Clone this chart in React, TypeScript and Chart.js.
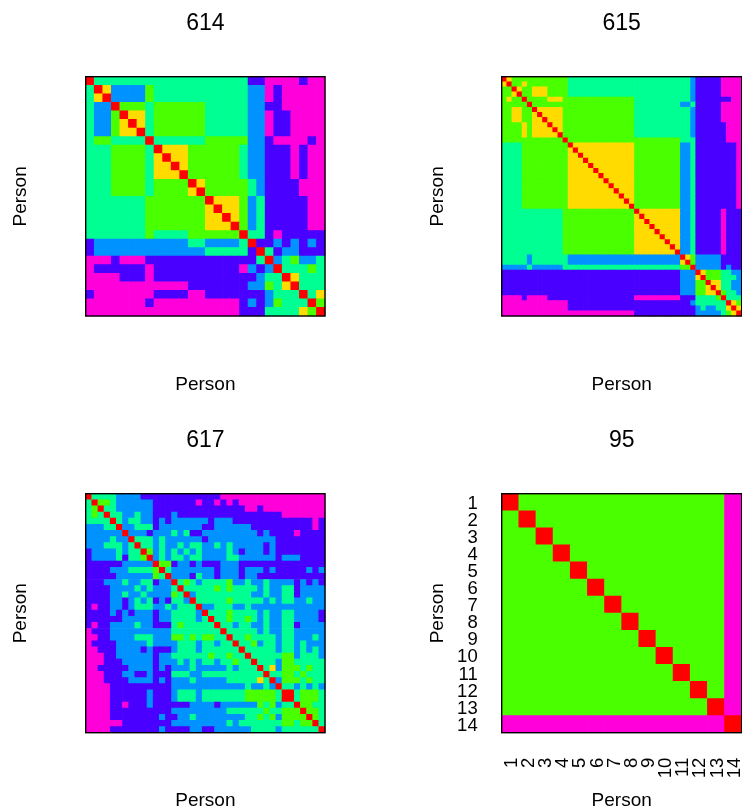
import React, { useEffect, useRef } from "react";
import { Chart, registerables } from "chart.js";

Chart.register(...registerables);

// Level of each cell: 0 red, 1 gold, 2 green, 3 spring, 4 azure, 5 indigo, 6 magenta
const levelColors = ["#FF0000", "#FFDB00", "#49FF00", "#00FF92", "#0092FF", "#4900FF", "#FF00DB"];

const rows614 = [
  "0 333333333333333333 55 6666 5 66",
  "3 0 1 4444 2 33333333333 44 6 5 66666",
  "3 1 0 4444 2 33333333333 44 6 5 66666",
  "3 44 0 222 3 222222 33333 44 55 66666",
  "3 44 2 0 11 3 222222 33333 44 6 55 6666",
  "3 44 2 1 0 1 3 222222 33333 44 6 55 6666",
  "3 44 2 11 0 3 222222 33333 44 6 55 6666",
  "3 22 3333 0 333333 22222 44 5 6666 5 6",
  "333 2222 3 0 111 222222 3 44 555 6 5 66",
  "333 2222 3 1 0 11 222222 3 44 555 6 5 66",
  "333 2222 3 11 0 1 222222 3 44 555 6 5 66",
  "333 2222 3 111 0 222222 3 44 555 6 5 66",
  "333 2222 3 2222 0 1 22222 3 4 5555 666",
  "333 2222 3 2222 1 0 22222 3 4 5555 666",
  "3333333 2222222 0 111 2 4 3 55555 66",
  "3333333 2222222 1 0 11 2 4 3 55555 66",
  "3333333 2222222 11 0 1 2 4 3 55555 66",
  "3333333 2222222 111 0 2 4 3 55555 66",
  "3333333 2 3333 222222 0 33 5 6 55555",
  "5 44444444444 33 4444 3 0 55 4 5 4 5 4 5",
  "5 4444444444444 33333 5 0 3 5 44 555",
  "666 5 666 5555555555555 3 0 4 3 2 44 3",
  "6 555555 6 5555555555 6 4 5 4 0 333 2 3",
  "6666 555 6 555555555555 4 33 0 1 333",
  "666666666666 5555555 44 2 3 1 0 333",
  "5 6666666 5555 66 5555555 4 333 0 3 1",
  "6666666 5 6666666666 5 4 5 4 2 333 0 2",
  "666666666666666666 555 3333 1 2 0",
];

const rows615 = [
  "01 22222222222 333333333333333333333333 4 55555 6666",
  "10 22 1 22222222 333333333333333333333333 4 55555 6666",
  "22 0 1 22 111 2222 333333333333333333333333 4 55555 6666",
  "22 1 0 22 111 2222 333333333333333333333333 4 55555 6666",
  "2 1 22 0 2222 111 2 2222222222222 33333333333 4 5555555 66",
  "22222 0 2222222 2222222222222 333333333 44 3 55555 6666",
  "22 11 22 0 11111 2 2222222222222 33333333333 4 55555 6666",
  "22 11 22 1 0 1111 2 2222222222222 33333333333 4 55555 6666",
  "22 11 22 11 0 111 2 2222222222222 33333333333 4 55555 6666",
  "2222 1 2 111 0 11 2 2222222222222 33333333333 4 555555 666",
  "2222 1 2 1111 0 1 2 2222222222222 33333333333 4 555555 666",
  "2222 1 2 11111 0 2 2222222222222 33333333333 4 555555 666",
  "222222222222 0 2222222222222222222222 333 555555 666",
  "3333 222222222 0 111111111111 222222222 44 3 55555555 6",
  "3333 222222222 1 0 11111111111 222222222 44 3 55555555 6",
  "3333 222222222 11 0 1111111111 222222222 44 3 55555555 6",
  "3333 222222222 111 0 111111111 222222222 44 3 55555555 6",
  "3333 222222222 1111 0 11111111 222222222 44 3 55555555 6",
  "3333 222222222 11111 0 1111111 222222222 44 3 55555555 6",
  "3333 222222222 111111 0 111111 222222222 44 3 55555555 6",
  "3333 222222222 1111111 0 11111 222222222 44 3 55555555 6",
  "3333 222222222 11111111 0 1111 222222222 44 3 55555555 6",
  "3333 222222222 111111111 0 111 222222222 44 3 55555555 6",
  "3333 222222222 1111111111 0 11 222222222 44 3 55555555 6",
  "3333 222222222 11111111111 0 1 222222222 44 3 55555555 6",
  "3333 222222222 111111111111 0 222222222 44 3 55555555 6",
  "333333333333 22222222222222 0 11111111 44 3 55555 6 555",
  "333333333333 22222222222222 1 0 1111111 44 3 55555 6 555",
  "333333333333 22222222222222 11 0 111111 44 3 55555 6 555",
  "333333333333 22222222222222 111 0 11111 44 3 55555 6 555",
  "333333333333 22222222222222 1111 0 1111 44 3 55555 6 555",
  "333333333333 22222222222222 11111 0 111 44 3 55555 6 555",
  "333333333333 22222222222222 111111 0 11 44 3 55555 6 555",
  "333333333333 22222222222222 1111111 0 1 44 3 55555 6 555",
  "333333333333 22222222222222 11111111 0 44 3 55555 6 555",
  "33333 4 3333333 4444444444444444444444 0 1 2 44444 5555",
  "33333 4 3333333 4444444444444444444444 1 0 2 44444 5555",
  "44444 3 444444 33333333333333333333333 22 0 44444 5 4 55",
  "55555555555555555555555555555555555 444 01 222 33 44",
  "55555555555555555555555555555555555 444 10 222 333 4",
  "55555555555555555555555555555555555 444 22 0 11 33 44",
  "55555555555555555555555555555555555 444 22 1 0 1 33 44",
  "55555555555555555555555555555555555 444 22 11 0 2 33 4",
  "6666 5 6666 55555555555555555 666666666 555 3333 2 0 333",
  "6666666666666 555555555555555555555555 4 333333 0 1 2",
  "6666666666666 5555555555555555555555555 4 3 44 33 1 0 1",
  "66666666666666666666666666 555555555555 44444 3 2 1 0",
];

const rows617 = [
  "0 3333 4444 5555555555555 66666666666666666",
  "3 0 22 3 444444 5555555 6 55 6 5 6 5 66666666666666",
  "3 2 0 33 444444 555555555555555 66 5 6666666666",
  "3 2 3 0 33 44 3 44 555 4 55555555555555555 6666666",
  "3333 0 3 4 33 44 5 4 5 444444 5 444 5555555555555 6 5",
  "444 33 0 44 333 5 4444444 55 444444 5555555555 6 5",
  "444444 0 444 5 444 3 4 3 55 444444444 5 4 5555 6 5555",
  "4444 3 44 0 333 4 3 444444 5 44444444444 55555555",
  "444 333 4 3 0 33 4 3 44 3 4 33 44 3 4 3 44444 5 4 55555555",
  "5 4444 3 4 33 0 2 4 3 4 3 4 3 4 3 4444 3 4 5 444 5 4 55555555",
  "5 4444 3 5 33 2 0 4 3 4 33 4 33 4444 33 444444 5 444 5555",
  "555555 44444 0 22 5 44 5 4 555 444 55555555555555",
  "5555 444 3333 2 0 3 4444444 5 444 5 444 5 4 55555 4 5 4",
  "55555 444444 2 3 0 444 5 3 44 5 444 5 44 55555555555",
  "555 444 3 44 33 5 44 0 3 2 3 4 3333 2 44 3 44 3 4444 5 4 5 4 5",
  "5555 4444 3 4 3 444 3 0 33333 2 3 2 3333 4 3 44 33 5 4444",
  "5555 44 3 44 3 4444 2 3 0 4 333333333 44 3 44 33 5 4444",
  "5555 44 5 4 3 4 3 5 4 5 33 4 0 33333 2 33333 4 3 4 33 44 3 44",
  "5 6 55 44 5 4 333 44 3 4 333 0 44 333 44 3 444444444444",
  "5555 4 5 4 5 444 5 44 3333 4 0 333 2 3333 4 3 44 33 4444 5",
  "555555 44444 5 44 3333 4 3 0 33 2 33 2 3 4 3 44 33 4444 5",
  "5 6 55 4444 3 44 555 3 2 33333 0 33 4 33 44 3 44 33 5 4444",
  "6 555 4444444444 33333333 0 33333 4 3 44 33 44444",
  "66 55 4444 333 444 22 3 2 3 22 33 0 33 2 3333 4 33 444 3 4",
  "6 5555 44444 3 4444 333 4 33 4 33 0 33 2 4 33 4 33 4 3 444",
  "66 555 4444 5 4 555 4 333 4 333333 0 33333 4 33 4 3 4 3 4",
  "666 55 444444 5 44 333333 2 33 2 33 0 33333 22 4 333 4",
  "666 555 44444 5 444 3 4 3 4 33 4 33 2 33 0 333 4 22 33333",
  "66 55555 4444 5 4 5 444 3 44444 3 4 333 0 3 1 4 222 3 2 33",
  "666 555 44 55 4 555 333 44 3333333333 0 33 22 3 2 333",
  "666 5555 4444 5 4 5 444 3 44444 33333 1 3 0 4 222 3 2 33",
  "6666 5555555555 444444444444 3 44 3 4 0 33 4 3 4 3 4",
  "6666 555555 4 555 4 333 4 3333333 22222 3 0 0 3 222 3",
  "6666 555555 4 555 4 333 4 3333333 22222 3 0 0 3 222 3",
  "6666 55 6 555 4 555555 4444 5 444444 2 3 2 4 33 0 22 33",
  "6666 5555555555 444444444 333333 2 33 222 0 22 3",
  "6666 55555555 4 55 44 3 44444444 33 2 3 2 4 2222 0 2 3",
  "666666 55555555 444444444 3 4 3333333 22 3 22 0 3",
  "6666 55555555 4 5555 44 55 444444 3333 4 333333 0",
];

const rows95 = [
  "0 222222222222 6",
  "2 0 22222222222 6",
  "22 0 2222222222 6",
  "222 0 222222222 6",
  "2222 0 22222222 6",
  "22222 0 2222222 6",
  "222222 0 222222 6",
  "2222222 0 22222 6",
  "22222222 0 2222 6",
  "222222222 0 222 6",
  "2222222222 0 22 6",
  "22222222222 0 2 6",
  "222222222222 0 6",
  "6666666666666 0",
];

const persons95 = ["1", "2", "3", "4", "5", "6", "7", "8", "9", "10", "11", "12", "13", "14"];

const FONT = "'Liberation Sans', Arial, sans-serif";
const TITLE_SIZE = 23;
const AXIS_SIZE = 19;
const TICK_SIZE = 18.5;

type PanelProps = {
  title: string;
  rows: string[];
  labels?: string[];
  left: number;
  top: number;
  plotLeft: number;
  plotTop: number;
  plotRight: number;
  plotBottom: number;
  titleCenter: number;
  yTitleCenter: number;
  xTitleFromBottom: number;
};

const W = 371;
const H = 406;

const framePlugin = {
  id: "frame",
  afterDatasetsDraw(chart: any) {
    const { left, top, width, height } = chart.chartArea;
    const ctx = chart.ctx;
    ctx.save();
    ctx.strokeStyle = "#000";
    ctx.lineWidth = 1.4;
    ctx.strokeRect(left, top, width, height);
    ctx.restore();
  },
};

function Panel(p: PanelProps) {
  const ref = useRef<HTMLCanvasElement>(null);
  useEffect(() => {
    const cells = p.rows.map((r) => r.replace(/ /g, ""));
    const n = cells.length;
    const names = p.labels ?? cells.map((_, i) => String(i + 1));
    const points: { x: string; y: string }[] = [];
    const colors: string[] = [];
    cells.forEach((row, r) => {
      row.split("").forEach((level, c) => {
        points.push({ x: names[c], y: names[r] });
        colors.push(levelColors[Number(level)]);
      });
    });
    const showTicks = !!p.labels;
    const chart = new Chart(ref.current as HTMLCanvasElement, {
      type: "scatter",
      data: {
        datasets: [
          {
            data: points,
            pointStyle: "rect",
            pointBackgroundColor: colors,
            pointBorderWidth: 0,
            pointRadius: (ctx: any) => {
              const area = ctx.chart.chartArea;
              return area ? (area.width / n + 0.7) * Math.SQRT1_2 : 3;
            },
          },
        ],
      },
      plugins: [framePlugin],
      options: {
        responsive: false,
        animation: false,
        events: [],
        layout: { autoPadding: false, padding: { left: 0, top: 0, right: W - p.plotRight, bottom: 0 } },
        plugins: {
          legend: { display: false },
          tooltip: { enabled: false },
          title: {
            display: true,
            text: p.title,
            fullSize: false,
            color: "#000",
            font: { family: FONT, size: TITLE_SIZE, weight: "normal", lineHeight: 1 },
            padding: {
              top: p.titleCenter - TITLE_SIZE / 2,
              bottom: p.plotTop - p.titleCenter - TITLE_SIZE / 2,
            },
          },
        },
        scales: {
          x: {
            type: "category",
            labels: names,
            offset: true,
            grid: { display: false, drawTicks: false },
            border: { display: false },
            afterFit: (s: any) => {
              s.height = H - p.plotBottom;
              s.paddingLeft = 0;
              s.paddingRight = 0;
            },
            ticks: {
              display: showTicks,
              autoSkip: false,
              minRotation: 90,
              maxRotation: 90,
              padding: 25,
              labelOffset: 1.5,
              color: "#000",
              font: { family: FONT, size: TICK_SIZE },
            },
            title: {
              display: true,
              text: "Person",
              color: "#000",
              font: { family: FONT, size: AXIS_SIZE, lineHeight: 1 },
              padding: { top: 0, bottom: p.xTitleFromBottom - AXIS_SIZE / 2 },
            },
          },
          y: {
            type: "category",
            labels: names,
            offset: true,
            grid: { display: false, drawTicks: false },
            border: { display: false },
            afterFit: (s: any) => {
              s.width = p.plotLeft;
              s.paddingTop = 0;
              s.paddingBottom = 0;
            },
            ticks: {
              display: showTicks,
              autoSkip: false,
              padding: 24,
              labelOffset: 1.5,
              color: "#000",
              font: { family: FONT, size: TICK_SIZE },
            },
            title: {
              display: true,
              text: "Person",
              color: "#000",
              font: { family: FONT, size: AXIS_SIZE, lineHeight: 1 },
              padding: { top: p.yTitleCenter - AXIS_SIZE / 2, bottom: 0 },
            },
          },
        },
      },
    } as any);
    return () => chart.destroy();
  }, []);
  return (
    <canvas
      ref={ref}
      width={W}
      height={H}
      style={{ position: "absolute", left: p.left, top: p.top, width: W, height: H, display: "block" }}
    />
  );
}

export default function App() {
  return (
    <div style={{ position: "absolute", left: 0, top: 0, width: 742, height: 812, overflow: "hidden", background: "#fff" }}>
      <Panel title="614" rows={rows614} left={0} top={0} plotLeft={85.7} plotRight={325} plotTop={76.7} plotBottom={316} titleCenter={23.5} yTitleCenter={21} xTitleFromBottom={21.5} />
      <Panel title="615" rows={rows615} left={371} top={0} plotLeft={130.7} plotRight={370.7} plotTop={76.7} plotBottom={316} titleCenter={23.5} yTitleCenter={67} xTitleFromBottom={21.5} />
      <Panel title="617" rows={rows617} left={0} top={406} plotLeft={85.7} plotRight={325} plotTop={87.7} plotBottom={326.7} titleCenter={34.5} yTitleCenter={21} xTitleFromBottom={11.5} />
      <Panel title="95" rows={rows95} labels={persons95} left={371} top={406} plotLeft={130.7} plotRight={370.7} plotTop={87.7} plotBottom={326.7} titleCenter={34.5} yTitleCenter={67} xTitleFromBottom={11.5} />
    </div>
  );
}
